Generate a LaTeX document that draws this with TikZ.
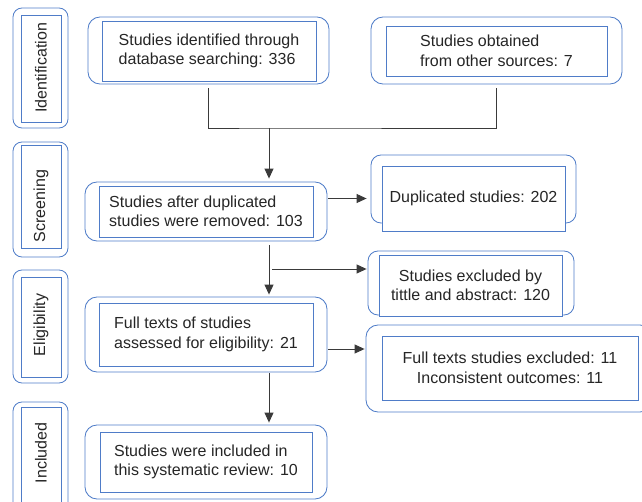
\documentclass[tikz,border=0pt]{standalone}
\usepackage{fontspec}
\setmainfont{Liberation Sans}
\usetikzlibrary{arrows.meta}
\definecolor{bblue}{HTML}{4F7CC8}
\definecolor{lcol}{HTML}{3A3A3A}
\definecolor{tcol}{HTML}{262626}
\newcommand\txtfont{\fontsize{16}{19.5}\selectfont}
\tikzset{
  outerbox/.style={draw=bblue, line width=0.85pt, rounded corners=11pt, inner sep=0pt},
  innerbox/.style={draw=bblue, line width=0.85pt, fill=white, inner sep=0pt, font=\txtfont, text=tcol},
  stagelabel/.style={inner sep=0pt, font=\txtfont, text=tcol, rotate=90},
  conn/.style={draw=lcol, line width=0.9pt},
  arr/.style={conn, -{Triangle[length=10pt,width=9pt]}},
}
\begin{document}
\begin{tikzpicture}[x=1pt,y=-1pt]
\useasboundingbox (0,0) rectangle (642,502);
\clip (0,0) rectangle (642,502);
% stage boxes
\node[outerbox, rounded corners=9pt, minimum width=55pt, minimum height=120pt] (s1o) at (40.5,68) {};
\node[innerbox, minimum width=40pt, minimum height=107pt] (s1) at (41,68.5) {};
\node[stagelabel] (s1l) at (41,68) {Identification};
\node[outerbox, rounded corners=9pt, minimum width=55pt, minimum height=115pt] (s2o) at (40.5,199.5) {};
\node[innerbox, minimum width=40pt, minimum height=103pt] (s2) at (41,196.5) {};
\node[stagelabel] (s2l) at (41,206) {Screening};
\node[outerbox, rounded corners=9pt, minimum width=55pt, minimum height=113pt] (s3o) at (40.5,326.5) {};
\node[innerbox, minimum width=40pt, minimum height=100pt] (s3) at (41,327) {};
\node[stagelabel] (s3l) at (41,325) {Eligibility};
\node[outerbox, rounded corners=9pt, minimum width=55pt, minimum height=118pt] (s4o) at (40.5,461) {};
\node[innerbox, minimum width=40pt, minimum height=108pt] (s4) at (41,461) {};
\node[stagelabel] (s4l) at (41,453) {Included};
% main boxes
\node[outerbox, rounded corners=12pt, minimum width=241pt, minimum height=67pt] (b1o) at (208.5,50.5) {};
\node[innerbox, align=left, minimum width=214pt, minimum height=60pt] (b1) at (209,51) {Studies identified through\\database searching: 336};
\node[outerbox, rounded corners=12pt, minimum width=251pt, minimum height=67pt] (b2o) at (496.5,50.5) {};
\node[innerbox, align=left, minimum width=221pt, minimum height=50pt] (b2) at (496.5,51) {Studies obtained\\from other sources: 7};
\node[outerbox, rounded corners=12pt, minimum width=242pt, minimum height=59pt] (b3o) at (206,211.5) {};
\node[innerbox, align=left, minimum width=214pt, minimum height=51pt] (b3) at (206,211.5) {Studies after duplicated\\studies were removed: 103};
\node[outerbox, rounded corners=10pt, minimum width=205pt, minimum height=68pt] (b4o) at (473.5,189) {};
\node[innerbox, align=center, minimum width=183pt, minimum height=65pt] (b4) at (473.5,198.5) {Duplicated studies: 202};
\node[outerbox, rounded corners=10pt, minimum width=206pt, minimum height=64pt] (b5o) at (471,283) {};
\node[innerbox, align=center, minimum width=183pt, minimum height=61pt] (b5) at (470.5,285.5) {Studies excluded by\\tittle and abstract: 120};
\node[outerbox, rounded corners=12pt, minimum width=242pt, minimum height=75pt] (b6o) at (206,334.5) {};
\node[innerbox, align=left, minimum width=214pt, minimum height=63pt] (b6) at (206,334.5) {Full texts of studies\\assessed for eligibility: 21};
\node[outerbox, rounded corners=12pt, minimum width=286pt, minimum height=87pt] (b7o) at (509,368.5) {};
\node[innerbox, align=center, minimum width=256pt, minimum height=64pt] (b7) at (510,368) {Full texts studies excluded: 11\\Inconsistent outcomes: 11};
\node[outerbox, rounded corners=12pt, minimum width=242pt, minimum height=74pt] (b8o) at (206,462) {};
\node[innerbox, align=left, minimum width=212pt, minimum height=60pt] (b8) at (206,462) {Studies were included in\\this systematic review: 10};
% connectors
\coordinate (j1) at (269,128);
\coordinate (j2) at (272,269);
\draw[conn] ([yshift=-4pt]b1o.south) |- (j1) -| ([yshift=-4pt]b2o.south);
\draw[arr] (j1) -- ([yshift=3pt]b3o.north -| j1);
\draw[arr] ([xshift=1pt]b3o.east |- b4.center) -- ([xshift=-4pt]b4o.west |- b4.center);
\draw[arr] ([yshift=-4pt]b3o.south -| j1) -- ([yshift=2pt]b6o.north -| j1);
\draw[arr] (j2) -- ([xshift=-1pt]j2 -| b5o.west);
\draw[arr] ([yshift=-14.5pt,xshift=1pt]b6o.east) -- ([yshift=-14.5pt,xshift=-1pt]b6o.east -| b7o.west);
\draw[arr] ([yshift=-1pt]b6o.south -| j1) -- ([yshift=2pt]b8o.north -| j1);
\end{tikzpicture}
\end{document}
